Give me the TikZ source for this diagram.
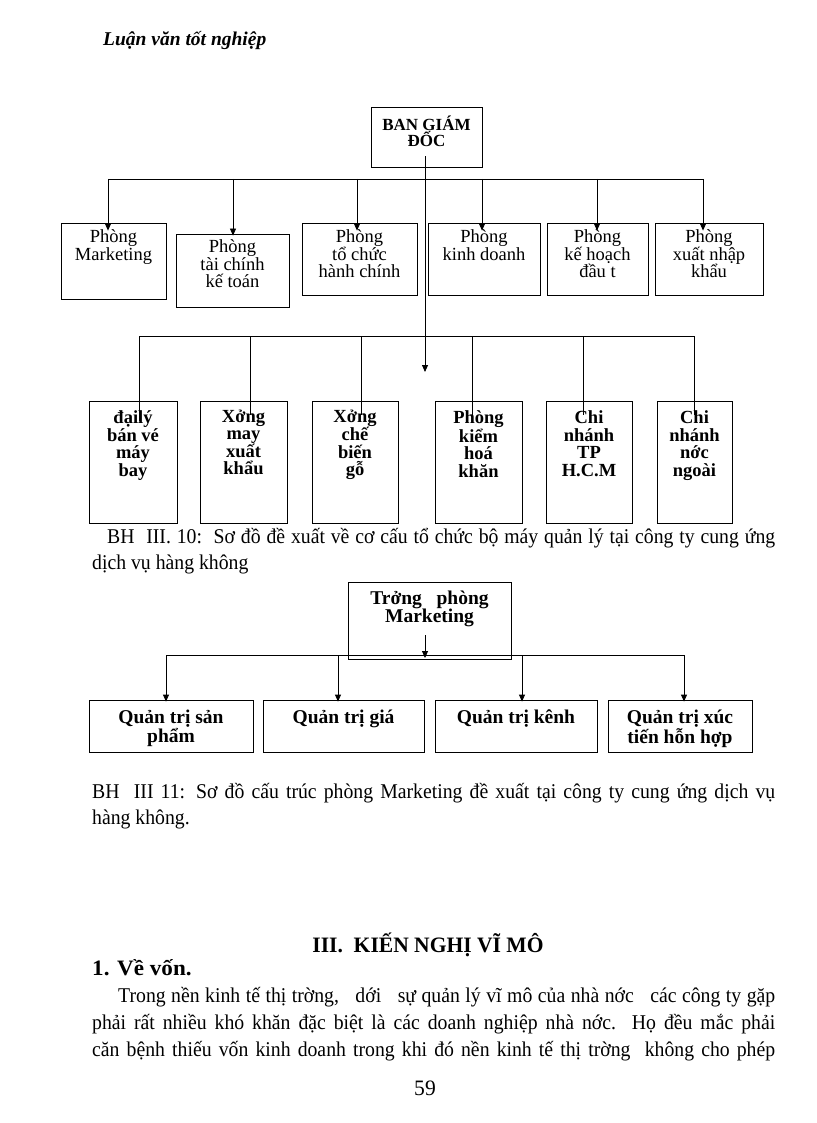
\documentclass[tikz,border=0pt]{standalone}
\usepackage{fontspec}
\setmainfont{Liberation Serif}
\newfontfamily\capfont[FakeStretch=0.94]{Liberation Serif}
\newfontfamily\headfont[FakeStretch=0.98]{Liberation Serif}
\newfontfamily\subheadfont[FakeStretch=1.05]{Liberation Serif}
\usetikzlibrary{arrows.meta}
\begin{document}
\begin{tikzpicture}[x=1pt,y=-1pt,
  box/.style={draw, line width=0.8pt, inner sep=0pt},
  arr/.style={-{Triangle[length=7pt,width=6pt]}, line width=0.8pt},
  ln/.style={line width=0.8pt},
  toptext/.style={anchor=north, align=center, inner sep=0pt, font=\fontsize{18.5}{17.5}\selectfont},
  lowtext/.style={anchor=north, align=center, inner sep=0pt, font=\fontsize{18.5}{17.5}\selectfont\bfseries},
  mktext/.style={anchor=north, align=center, inner sep=0pt, font=\fontsize{19.5}{18}\selectfont\bfseries},
  txt/.style={anchor=base west, inner sep=0pt, font=\capfont\fontsize{21}{24}\selectfont}
]
\useasboundingbox (0,0) rectangle (816,1123);

% header
\node[anchor=base west, inner sep=0pt, font=\fontsize{19.5}{20}\selectfont\bfseries\itshape] (hdr) at (103,46) {Luận văn tốt nghiệp};

% ===== Diagram 1 =====
\node[box, minimum width=111pt, minimum height=60pt,
  label={[anchor=north, align=center, inner sep=0pt, yshift=-9pt, font=\fontsize{17}{15}\selectfont\bfseries]north:BAN GIÁM\\ĐỐC}] (bgd) at (426.5,137) {};

\node[box, minimum width=105pt, minimum height=76pt, label={[toptext, yshift=-7pt]north:Phòng\\Marketing}] (m1) at (113.5,261) {};
\node[box, minimum width=113pt, minimum height=73pt, label={[toptext, yshift=-6pt]north:Phòng\\tài chính\\kế toán}] (m2) at (232.5,270.5) {};
\node[box, minimum width=115pt, minimum height=72pt, label={[toptext, yshift=-7pt]north:Phòng\\tổ chức\\hành chính}] (m3) at (359.5,259) {};
\node[box, minimum width=112pt, minimum height=72pt, label={[toptext, yshift=-7pt]north:Phòng\\kinh doanh}] (m4) at (484,259) {};
\node[box, minimum width=101pt, minimum height=72pt, label={[toptext, yshift=-7pt]north:Phòng\\kế hoạch\\đầu t}] (m5) at (597.5,259) {};
\node[box, minimum width=108pt, minimum height=72pt, label={[toptext, yshift=-7pt]north:Phòng\\xuất nhập\\khẩu}] (m6) at (709,259) {};

\node[box, minimum width=88pt, minimum height=122pt, label={[lowtext, yshift=-10pt]north:đạilý\\bán vé\\máy\\bay}] (b1) at (133,462) {};
\node[box, minimum width=87pt, minimum height=122pt, label={[lowtext, yshift=-9pt]north:Xởng\\may\\xuất\\khẩu}] (b2) at (243.5,462) {};
\node[box, minimum width=86pt, minimum height=122pt, label={[lowtext, yshift=-9pt]north:Xởng\\chế\\biến\\gỗ}] (b3) at (355,462) {};
\node[box, minimum width=87pt, minimum height=122pt, label={[lowtext, yshift=-10pt]north:Phòng\\kiểm\\hoá\\khăn}] (b4) at (478.5,462) {};
\node[box, minimum width=86pt, minimum height=122pt, label={[lowtext, yshift=-10pt]north:Chi\\nhánh\\TP\\H.C.M}] (b5) at (589,462) {};
\node[box, minimum width=75pt, minimum height=122pt, label={[lowtext, yshift=-10pt]north:Chi\\nhánh\\nớc\\ngoài}] (b6) at (694.5,462) {};

% connectors diagram 1
\coordinate (trunkend) at (425,372);
\draw[arr] ([yshift=11pt]bgd.south -| trunkend) -- (trunkend);
\coordinate (t1) at (108,179);
\coordinate (t2) at (233,179);
\coordinate (t3) at (357,179);
\coordinate (t4) at (482,179);
\coordinate (t5) at (597,179);
\coordinate (t6) at (703,179);
\draw[ln] (t1) -- (t6);
\draw[arr] (t1) -- ([yshift=-8pt]t1 |- m1.north);
\draw[arr] (t2) -- ([yshift=-2pt]t2 |- m2.north);
\draw[arr] (t3) -- ([yshift=-8pt]t3 |- m3.north);
\draw[arr] (t4) -- ([yshift=-8pt]t4 |- m4.north);
\draw[arr] (t5) -- ([yshift=-8pt]t5 |- m5.north);
\draw[arr] (t6) -- ([yshift=-8pt]t6 |- m6.north);

\coordinate (u1) at (139,336);
\coordinate (u2) at (250,336);
\coordinate (u3) at (361,336);
\coordinate (u4) at (472,336);
\coordinate (u5) at (583,336);
\coordinate (u6) at (694,336);
\draw[ln] (u1) -- (u6);
\draw[ln] (u1) -- ([yshift=-20pt]u1 |- b1.north);
\draw[ln] (u2) -- ([yshift=-14pt]u2 |- b2.north);
\draw[ln] (u3) -- ([yshift=-14pt]u3 |- b3.north);
\draw[ln] (u4) -- ([yshift=-14pt]u4 |- b4.north);
\draw[ln] (u5) -- ([yshift=-14pt]u5 |- b5.north);
\draw[ln] (u6) -- ([yshift=-14pt]u6 |- b6.north);

% caption 1
\node[txt] (c1a) at (107,543) {\makebox[668pt][s]{BH\ \ III. 10:\ \ Sơ đồ đề xuất về cơ cấu tổ chức bộ máy quản lý tại công ty cung ứng}};
\node[txt] (c1b) at (92,569) {dịch vụ hàng không};

% ===== Diagram 2 =====
\node[box, minimum width=163pt, minimum height=77pt, label={[mktext, yshift=-9pt]north:Trởng\ \ \ phòng\\Marketing}] (tp) at (429.5,620.5) {};
\node[box, minimum width=164pt, minimum height=52pt, label={[mktext, yshift=-10pt]north:Quản trị sản\\phẩm}] (q1) at (171,726) {};
\node[box, minimum width=161pt, minimum height=52pt, label={[mktext, yshift=-10pt]north:Quản trị giá}] (q2) at (343.5,726) {};
\node[box, minimum width=162pt, minimum height=52pt, label={[mktext, yshift=-10pt]north:Quản trị kênh}] (q3) at (516,726) {};
\node[box, minimum width=144pt, minimum height=52pt, label={[mktext, yshift=-10pt]north:Quản trị xúc\\tiến hỗn hợp}] (q4) at (680,726) {};

\coordinate (mkend) at (425,658);
\draw[arr] ([yshift=24pt]tp.south -| mkend) -- (mkend);
\coordinate (v1) at (166,655);
\coordinate (v2) at (338,655);
\coordinate (v3) at (522,655);
\coordinate (v4) at (684,655);
\draw[ln] (v1) -- (v4);
\draw[arr] (v1) -- ([yshift=-2pt]v1 |- q1.north);
\draw[arr] (v2) -- ([yshift=-2pt]v2 |- q2.north);
\draw[arr] (v3) -- ([yshift=-2pt]v3 |- q3.north);
\draw[arr] (v4) -- ([yshift=-2pt]v4 |- q4.north);

% caption 2
\node[txt] (c2a) at (92,798) {\makebox[683pt][s]{BH\ \ III 11: Sơ đồ cấu trúc phòng Marketing đề xuất tại công ty cung ứng dịch vụ}};
\node[txt] (c2b) at (92,824) {hàng không.};

% text section
\node[anchor=base, inner sep=0pt, font=\headfont\fontsize{22}{24}\selectfont\bfseries] (h3) at (428,952) {III.\ \ KIẾN NGHỊ VĨ MÔ};
\node[anchor=base west, inner sep=0pt, font=\subheadfont\fontsize{22}{24}\selectfont\bfseries] (h4) at (92,975) {1. Về vốn.};
\node[txt] (p1) at (118,1002) {\makebox[657pt][s]{Trong nền kinh tế thị trờng,\ \ \ dới\ \ \ sự quản lý vĩ mô của nhà nớc\ \ \ các công ty gặp}};
\node[txt] (p2) at (92,1029) {\makebox[683pt][s]{phải rất nhiều khó khăn đặc biệt là các doanh nghiệp nhà nớc.\ \ Họ đều mắc phải}};
\node[txt] (p3) at (92,1056) {\makebox[683pt][s]{căn bệnh thiếu vốn kinh doanh trong khi đó nền kinh tế thị trờng\ \ không cho phép}};
\node[anchor=base, inner sep=0pt, font=\headfont\fontsize{22}{24}\selectfont] (pg) at (425,1095) {59};
\end{tikzpicture}
\end{document}
